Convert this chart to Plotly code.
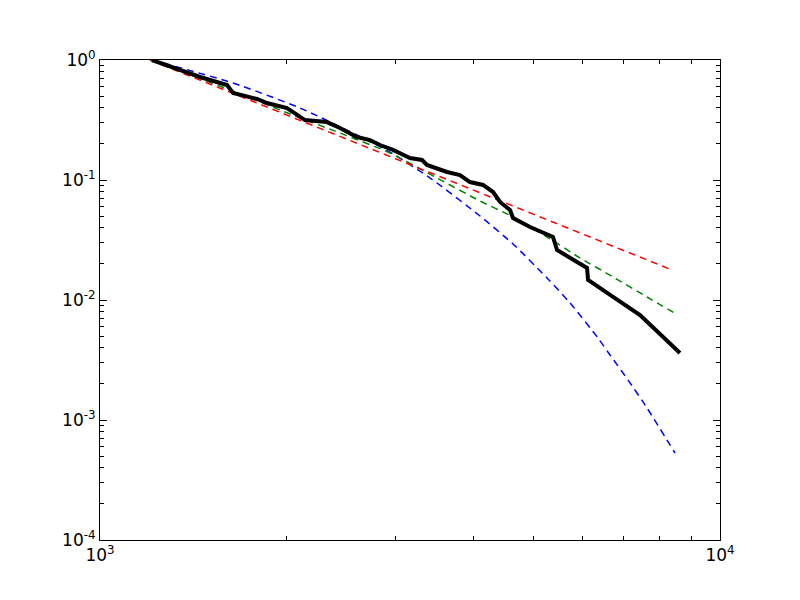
import plotly.graph_objects as go

# Empirical CCDF (black solid)
data_x = [1213, 1450, 1603, 1639, 1792, 1859, 2003, 2048, 2141, 2323, 2438, 2597, 2726,
          2829, 2969, 3162, 3306, 3368, 3628, 3807, 3951, 4148, 4305, 4418, 4585, 4636,
          4939, 5378, 5459, 6103, 6126, 6722, 7430, 8618]
data_y = [1.0, 0.722, 0.619, 0.531, 0.473, 0.438, 0.398, 0.369, 0.316, 0.304, 0.271, 0.228,
          0.215, 0.1957, 0.178, 0.1526, 0.1468, 0.1334, 0.1166, 0.1101, 0.0962, 0.0909,
          0.0794, 0.0656, 0.0562, 0.0482, 0.0406, 0.0335, 0.0261, 0.0185, 0.0147, 0.0106,
          0.0075, 0.00362]

# Power-law fit (red dashed)
red_x = [1204, 2102, 3670, 6405, 8366]
red_y = [1.0, 0.315, 0.0989, 0.031, 0.0178]

# Truncated power-law fit (green dashed)
green_x = [1204, 1621, 2026, 2438, 2936, 3496, 4102, 4636, 5260, 5946, 6722, 7626, 8554]
green_y = [1.0, 0.562, 0.355, 0.2464, 0.168, 0.1039, 0.0668, 0.0492, 0.0335, 0.0224,
           0.01555, 0.01059, 0.0075]

# Exponential fit (blue dashed)
blue_x = [1213, 1639, 2102, 2597, 2936, 3407, 4102, 4636, 5260, 5730, 6357, 6647, 7107,
          7626, 8460]
blue_y = [1.0, 0.643, 0.398, 0.237, 0.171, 0.1039, 0.0501, 0.0293, 0.01526, 0.00944,
          0.00482, 0.00348, 0.00215, 0.00126, 0.000531]

x_tickvals = [1000, 10000]
x_ticktext = ["10<sup>3</sup>", "10<sup>4</sup>"]
y_tickvals = [1e-4, 1e-3, 1e-2, 1e-1, 1]
y_ticktext = ["10<sup>-4</sup>", "10<sup>-3</sup>", "10<sup>-2</sup>", "10<sup>-1</sup>", "10<sup>0</sup>"]

fig = go.Figure()
fig.add_trace(go.Scatter(x=blue_x, y=blue_y, mode="lines", line_shape="spline",
                         line=dict(color="#0000ff", width=1.5, dash="7px,5px", smoothing=0.6)))
fig.add_trace(go.Scatter(x=green_x, y=green_y, mode="lines", line_shape="spline",
                         line=dict(color="#008000", width=1.5, dash="7px,5px", smoothing=0.6)))
fig.add_trace(go.Scatter(x=red_x, y=red_y, mode="lines",
                         line=dict(color="#ff0000", width=1.5, dash="7px,5px")))
fig.add_trace(go.Scatter(x=data_x, y=data_y, mode="lines",
                         line=dict(color="black", width=4)))

axis_common = dict(
    type="log", showgrid=False, zeroline=False,
    showline=True, linecolor="black", linewidth=1, mirror="allticks",
    ticks="inside", ticklen=7, tickwidth=1, tickcolor="black",
    minor=dict(ticks="inside", ticklen=4, tickwidth=1, tickcolor="black",
               showgrid=False, dtick="D1"),
    tickfont=dict(family="DejaVu Sans", size=17, color="black"),
)

fig.update_xaxes(range=[3, 4], tickvals=x_tickvals, ticktext=x_ticktext, **axis_common)
fig.update_yaxes(range=[-4, 0], tickvals=y_tickvals, ticktext=y_ticktext, **axis_common)

fig.update_layout(
    width=792, height=592,
    margin=dict(l=92, r=80, t=52, b=60),
    plot_bgcolor="white", paper_bgcolor="white",
    showlegend=False,
)

fig.write_html("out.html")
